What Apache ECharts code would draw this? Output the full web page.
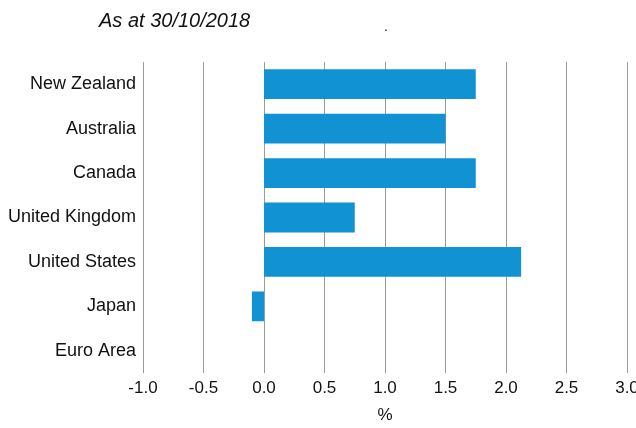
<!DOCTYPE html>
<html><head><meta charset="utf-8">
<script src="https://cdn.jsdelivr.net/npm/echarts@6/dist/echarts.min.js"></script>
<style>html,body{margin:0;padding:0;background:#fff}#c{width:636px;height:428px}</style>
</head><body><div id="c"></div>
<script>
const categories = ["New Zealand","Australia","Canada","United Kingdom","United States","Japan","Euro Area"];
const values = [1.75, 1.5, 1.75, 0.75, 2.125, -0.1, 0];
const xTicks = [-1.0, -0.5, 0.0, 0.5, 1.0, 1.5, 2.0, 2.5, 3.0];
const titleText = "As at 30/10/2018";
const xName = "%";

const chart = echarts.init(document.getElementById('c'), null, {renderer:'canvas'});
chart.setOption({
  animation:false,
  textStyle:{fontFamily:'Liberation Sans'},
  title:[
    {text:titleText, left:94, top:6, textStyle:{fontSize:20, fontStyle:'italic', fontWeight:'normal', color:'#111', fontFamily:'Liberation Sans'}},
    {text:'.', left:379, top:15, textStyle:{fontSize:14, fontWeight:'normal', color:'#111'}}
  ],
  grid:{left:143, right:9, top:62, bottom:55, containLabel:false, outerBoundsMode:'none'},
  xAxis:{
    type:'value', min:xTicks[0], max:xTicks[xTicks.length-1], interval:0.5,
    name:xName, nameLocation:'middle', nameGap:34,
    nameTextStyle:{fontSize:17, color:'#111'},
    axisLine:{show:false}, axisTick:{show:false},
    axisLabel:{fontSize:17, color:'#111', margin:7, formatter:v=>v.toFixed(1)},
    splitLine:{show:true, lineStyle:{color:'#9a9a9a', width:1}}
  },
  yAxis:{
    type:'category', data:categories, inverse:true,
    axisLine:{show:false}, axisTick:{show:false},
    axisLabel:{fontSize:18, color:'#111', margin:7},
    splitLine:{show:false}
  },
  series:[{
    type:'bar', data:values, barCategoryGap:'33%',
    itemStyle:{color:'#1192d3'}
  }]
});
</script></body></html>
